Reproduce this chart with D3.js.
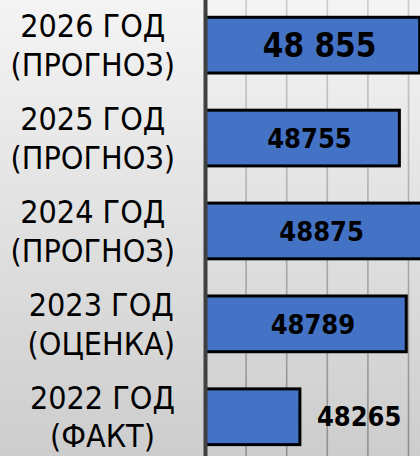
<!DOCTYPE html>
<html><head><meta charset="utf-8">
<script src="https://cdn.jsdelivr.net/npm/d3@7"></script>
<style>
html,body{margin:0;padding:0;overflow:hidden;background:#fff}
svg{display:block}
.cat{font-family:"DejaVu Sans Condensed","DejaVu Sans",sans-serif;font-stretch:condensed;font-size:32px;fill:#000}
.val{font-family:"DejaVu Sans Condensed","DejaVu Sans",sans-serif;font-stretch:condensed;font-weight:bold;fill:#000}
</style></head>
<body>
<svg id="c" width="420" height="456"></svg>
<script>
const categories = ["2026 ГОД|(ПРОГНОЗ)", "2025 ГОД|(ПРОГНОЗ)", "2024 ГОД|(ПРОГНОЗ)", "2023 ГОД|(ОЦЕНКА)", "2022 ГОД|(ФАКТ)"];
const values = [48855, 48755, 48875, 48789, 48265];
const valueLabels = ["48 855", "48755", "48875", "48789", "48265"];
const xTicks = [47800, 48000, 48200, 48400, 48600, 48800, 49000];

const W = 420, H = 456;
const svg = d3.select("#c");
const defs = svg.append("defs");
const bg = defs.append("linearGradient").attr("id","bg").attr("x1",0).attr("y1",0).attr("x2",0).attr("y2",1);
bg.append("stop").attr("offset",0).attr("stop-color","#f4f4f4");
bg.append("stop").attr("offset",1).attr("stop-color","#cdcdcd");
const gg = defs.append("linearGradient").attr("id","gg").attr("gradientUnits","userSpaceOnUse")
  .attr("x1",0).attr("y1",0).attr("x2",0).attr("y2",H);
gg.append("stop").attr("offset",0).attr("stop-color","#cbcbcb");
gg.append("stop").attr("offset",1).attr("stop-color","#8e8e8e");

svg.append("rect").attr("width",W).attr("height",H).attr("fill","url(#bg)");

const axisX = 205.5;
const x = d3.scaleLinear().domain([47800, 49000]).range([axisX, axisX + 1200*0.203]);
const y = d3.scaleBand().domain(categories).range([-1.3, 463.2]).paddingInner(0.4).paddingOuter(0.2);

// gridlines
svg.append("g").selectAll("line").data(xTicks.slice(1)).join("line")
  .attr("x1", d => x(d)).attr("x2", d => x(d)).attr("y1", 0).attr("y2", H)
  .attr("stroke","url(#gg)").attr("stroke-width",1.6);

// bars
svg.append("g").selectAll("rect").data(values).join("rect")
  .attr("x", x(47800))
  .attr("y", (d,i) => y(categories[i]))
  .attr("width", d => x(d) - x(47800))
  .attr("height", y.bandwidth())
  .attr("fill","#4472c4").attr("stroke","#000").attr("stroke-width",3);

// axis line
svg.append("line").attr("x1",axisX).attr("x2",axisX).attr("y1",0).attr("y2",H)
  .attr("stroke","#404040").attr("stroke-width",4);

// value labels
svg.append("g").selectAll("text").data(values).join("text")
  .attr("class","val")
  .attr("font-size", (d,i) => i === 0 ? 33 : 27)
  .attr("text-anchor", d => (x(d) - axisX) < 120 ? "start" : "middle")
  .attr("x", d => (x(d) - axisX) < 120 ? x(d) + 17 : (axisX + x(d)) / 2 + 7)
  .attr("y", (d,i) => y(categories[i]) + y.bandwidth()/2)
  .attr("dy","0.36em")
  .text((d,i) => valueLabels[i]);

// category labels: block right-aligned at 175, lines centered within block
const labelRight = 175;
categories.forEach((c,i) => {
  const lines = c.split("|");
  const g = svg.append("g");
  const cy = y(c) + y.bandwidth()/2;
  const lh = 38.4;
  const ts = lines.map((t,k) => g.append("text").attr("class","cat")
    .attr("text-anchor","middle")
    .attr("y", cy + (k - (lines.length-1)/2) * lh)
    .attr("dy","0.36em").text(t));
  const wmax = d3.max(ts, t => t.node().getComputedTextLength());
  ts.forEach(t => t.attr("x", labelRight - wmax/2));
});
</script>
</body></html>
